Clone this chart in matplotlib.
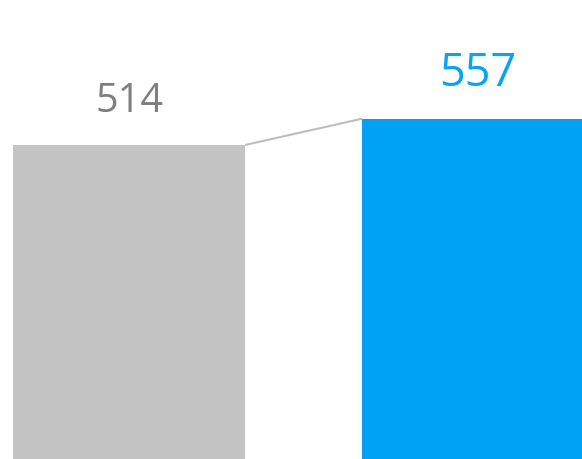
import matplotlib
matplotlib.use("Agg")
import matplotlib.pyplot as plt

# ── data ──────────────────────────────────────────────────────────────────────
categories = ["prev", "curr"]
values = [514, 557]

BAR_COLORS = ["#c4c4c4", "#00a2f5"]
LABEL_COLORS = ["#7f7f7f", "#0aa3f2"]
LABEL_SIZES = [28.5, 32.5]

plt.rcParams["font.family"] = ["Open Sans", "DejaVu Sans"]

fig = plt.figure(figsize=(5.82, 4.59), dpi=100)
ax = fig.add_axes([0, 0, 1, 1])

xs = list(range(len(values)))
width = 0.665
bars = ax.bar(xs, values, width=width, color=BAR_COLORS, linewidth=0)

# connector between the two bar tops
ax.plot([xs[0] + width / 2, xs[1] - width / 2], [values[0], values[1]],
        color="#bdbdbd", linewidth=1.5, solid_capstyle="butt", zorder=1)

for x, v, c, s in zip(xs, values, LABEL_COLORS, LABEL_SIZES):
    ax.annotate(f"{v}", xy=(x, v), xytext=(0, 23.5),
                textcoords="offset points", ha="center", va="baseline",
                fontsize=s, color=c)

ax.set_xlim(-0.37, 1.298)
ax.set_ylim(0, 751.3)
ax.axis("off")

fig.savefig("out.png", dpi=100)
